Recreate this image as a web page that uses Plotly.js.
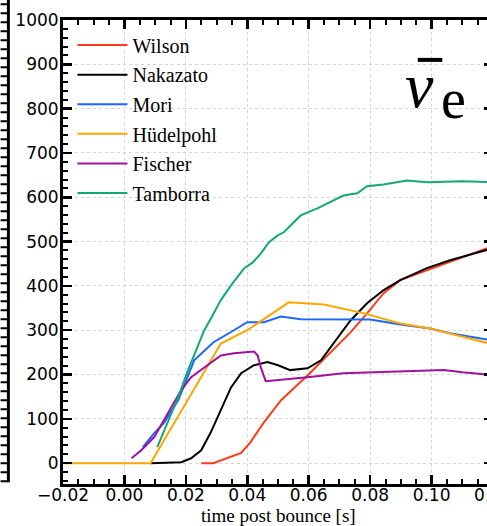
<!DOCTYPE html>
<html>
<head>
<meta charset="utf-8">
<script src="https://cdn.plot.ly/plotly-3.0.1.min.js"></script>
<style>
html, body { margin: 0; padding: 0; overflow: hidden; background: #fff; }
#chart { width: 520px; height: 526px; }
</style>
</head>
<body>
<div id="chart"></div>
<script>
// ---- data (time post bounce [s], value) ----
const wilsonT = [0.025, 0.0289, 0.038, 0.041, 0.0454, 0.051, 0.0596, 0.068, 0.0736, 0.079, 0.0843, 0.0898, 0.0985, 0.106, 0.112, 0.12];
const wilsonV = [0, 0, 23, 47, 92, 142, 198, 255, 295, 338, 383, 413, 435, 453, 469, 490];

const nakazatoT = [0.0085, 0.0185, 0.0217, 0.025, 0.028, 0.0314, 0.0347, 0.038, 0.0422, 0.0466, 0.05, 0.054, 0.0596, 0.064, 0.068, 0.0736, 0.079, 0.0843, 0.0898, 0.0985, 0.106, 0.112, 0.12];
const nakazatoV = [0, 2, 11, 29, 68, 119, 171, 203, 221, 228, 221, 210, 214, 232, 270, 322, 361, 390, 413, 440, 458, 470, 485];

const moriT = [0.006, 0.0097, 0.013, 0.0175, 0.0227, 0.029, 0.0347, 0.040, 0.0454, 0.051, 0.0574, 0.064, 0.080, 0.0898, 0.0995, 0.106, 0.118, 0.12];
const moriV = [36, 68, 92, 142, 232, 273, 296, 318, 318, 331, 325, 325, 324, 313, 304, 293, 280, 277];

const hudelpohlT = [-0.02, 0.0085, 0.0314, 0.040, 0.0535, 0.065, 0.078, 0.0898, 0.0995, 0.106, 0.12];
const hudelpohlV = [0, 0, 270, 300, 363, 358, 338, 315, 304, 293, 268];

const fischerT = [0.0023, 0.0055, 0.0097, 0.0143, 0.0185, 0.0217, 0.026, 0.0314, 0.0357, 0.0422, 0.0434, 0.0444, 0.046, 0.053, 0.0596, 0.0713, 0.0898, 0.104, 0.110, 0.12];
const fischerV = [11, 29, 59, 113, 165, 194, 216, 243, 248, 252, 243, 216, 185, 189, 194, 203, 207, 210, 205, 199];

const tamborraT = [0.0107, 0.0175, 0.0207, 0.026, 0.0282, 0.0314, 0.0347, 0.039, 0.0418, 0.0444, 0.047, 0.0499, 0.0519, 0.0574, 0.0628, 0.068, 0.0713, 0.0758, 0.079, 0.0843, 0.092, 0.0985, 0.110, 0.12];
const tamborraV = [36, 149, 210, 300, 327, 368, 401, 440, 453, 473, 498, 514, 521, 559, 575, 593, 604, 609, 625, 629, 638, 634, 636, 634];

const seriesNames = ['Wilson', 'Nakazato', 'Mori', 'Hüdelpohl', 'Fischer', 'Tamborra'];
const seriesColors = ['#ff3b1a', '#000000', '#1a66ff', '#ffa500', '#a0109f', '#12aa72'];
const seriesT = [wilsonT, nakazatoT, moriT, hudelpohlT, fischerT, tamborraT];
const seriesV = [wilsonV, nakazatoV, moriV, hudelpohlV, fischerV, tamborraV];

const xTickVals = [-0.02, 0.00, 0.02, 0.04, 0.06, 0.08, 0.10, 0.12];
const yTickVals = [0, 100, 200, 300, 400, 500, 600, 700, 800, 900, 1000];
const xTitle = 'time post bounce [s]';

const traces = seriesNames.map((n, i) => ({
  type: 'scatter', mode: 'lines', name: n,
  x: seriesT[i], y: seriesV[i],
  legendgroup: 'g' + i,
  line: { color: seriesColors[i], width: 2 }
}));

const axisCommon = {
  showline: true, linecolor: '#000', linewidth: 3, mirror: 'ticks',
  ticks: 'inside', ticklen: 9, tickwidth: 2.5, tickcolor: '#000',
  showgrid: true, gridcolor: '#d4d4d4', griddash: 'dot', gridwidth: 1,
  zeroline: false,
  tickfont: { family: 'DejaVu Sans', size: 17, color: '#000' },
  minor: { ticks: 'inside', ticklen: 5, tickwidth: 2, tickcolor: '#000', showgrid: false }
};

const layout = {
  width: 520, height: 526,
  margin: { l: 63, r: 27, t: 20, b: 42 },
  paper_bgcolor: '#fff', plot_bgcolor: '#fff',
  showlegend: true,
  legend: {
    x: 0.022, y: 0.988, xanchor: 'left', yanchor: 'top',
    bgcolor: 'rgba(0,0,0,0)', borderwidth: 0,
    font: { family: 'Liberation Serif', size: 20, color: '#000' },
    tracegroupgap: 0.6, itemwidth: 50
  },
  xaxis: Object.assign({}, axisCommon, {
    range: [-0.02, 0.12], tickvals: xTickVals, tickformat: '.2f',
    ticklabelstandoff: -6,
    minor: Object.assign({}, axisCommon.minor, { dtick: 0.005 })
  }),
  yaxis: Object.assign({}, axisCommon, {
    range: [-47, 1000], tickvals: yTickVals,
    ticklabelstandoff: -2,
    minor: Object.assign({}, axisCommon.minor, { dtick: 20 })
  }),
  annotations: [
    { xref: 'paper', yref: 'paper', x: 0.5, y: -0.0685, xanchor: 'center', yanchor: 'middle',
      text: xTitle, showarrow: false,
      font: { family: 'Liberation Serif', size: 19, color: '#000' } },
    { xref: 'paper', yref: 'paper', x: 0.829, y: 0.858, xanchor: 'center', yanchor: 'middle',
      text: '<i>ν</i>', showarrow: false,
      font: { family: 'Liberation Serif', size: 64, color: '#000' } },
    { xref: 'paper', yref: 'paper', x: 0.907, y: 0.83, xanchor: 'center', yanchor: 'middle',
      text: 'e', showarrow: false,
      font: { family: 'Liberation Serif', size: 56, color: '#000' } }
  ],
  shapes: [
    // macron over the nu symbol
    { type: 'line', xref: 'x', yref: 'y', x0: 0.0955, x1: 0.1035, y0: 910, y1: 910,
      line: { color: '#000', width: 4 } },
    // neighbouring panel's frame edge at far left
    { type: 'line', xref: 'paper', yref: 'paper', x0: -0.127, x1: -0.127, y0: 0.004, y1: 1.05,
      line: { color: '#000', width: 3 } },
    { type: 'line', xref: 'paper', yref: 'paper', x0: -0.137, x1: -0.137, y0: 0.004, y1: 1.05,
      line: { color: '#000', width: 7, dash: '2px,7px' } }
  ]
};

Plotly.newPlot('chart', traces, layout, { displayModeBar: false, staticPlot: true });
</script>
</body>
</html>
